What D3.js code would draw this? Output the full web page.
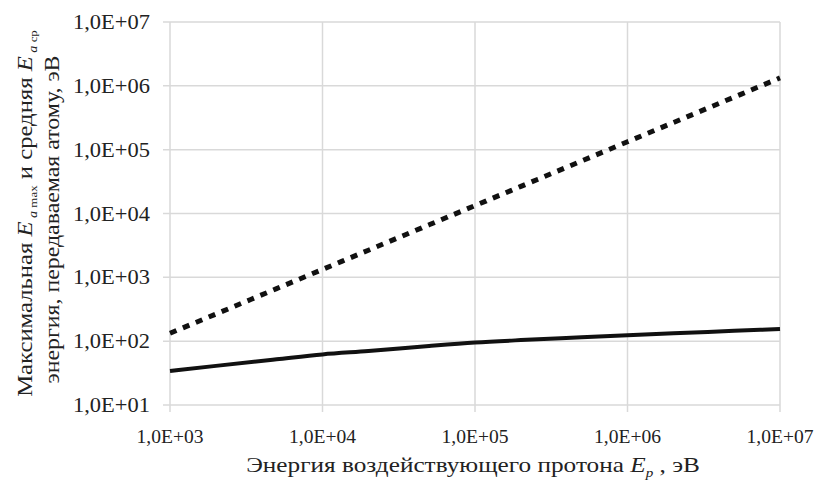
<!DOCTYPE html>
<html>
<head>
<meta charset="utf-8">
<script src="https://cdn.jsdelivr.net/npm/d3@7"></script>
<style>
  body { margin: 0; background: #fff; }
</style>
</head>
<body>
<svg id="chart" width="821" height="492"></svg>
<script>
// proton energy, eV
const energyEv = [1e3, 2e3, 5e3, 1e4, 2e4, 5e4, 1e5, 2e5, 5e5, 1e6, 2e6, 5e6, 1e7];
// maximal energy passed to the atom, eV (dotted)
const eMax = [133, 266, 665, 1330, 2660, 6650, 13300, 26600, 66500, 133000, 266000, 665000, 1330000];
// average energy passed to the atom, eV (solid)
const eAvg = [34, 41, 52, 62, 70, 84, 95, 104, 115, 124, 133, 145, 155];

const xTicks = [1e3, 1e4, 1e5, 1e6, 1e7];
const yTicks = [1e1, 1e2, 1e3, 1e4, 1e5, 1e6, 1e7];

const W = 821, H = 492;
const margin = {top: 22, right: 41, bottom: 87, left: 170};
const gridColor = "#d9d9d9";
const serif = "Liberation Serif";

const svg = d3.select("#chart");

const x = d3.scaleLog().domain([1e3, 1e7]).range([margin.left, W - margin.right]);
const y = d3.scaleLog().domain([1e1, 1e7]).range([H - margin.bottom, margin.top]);

function fmt(v) {
    // 1,0E+03 style
    let p = Math.round(Math.log10(v));
    return "1,0E+" + (p < 10 ? "0" + p : p);
}

// stretch a text horizontally so it is about `target` px long (scanned figure text is wide)
function stretch(sel, base, target) {
    sel.each(function () {
        let w = this.getComputedTextLength();
        let s = target / w;
        d3.select(this).attr("transform", base(d3.select(this).datum()) + " scale(" + s.toFixed(3) + ",1)");
    });
}

// grid
svg.append("g").selectAll("line")
    .data(yTicks)
    .enter().append("line")
    .attr("x1", margin.left - 7)
    .attr("x2", W - margin.right)
    .attr("y1", d => y(d))
    .attr("y2", d => y(d))
    .style("stroke", gridColor)
    .style("stroke-width", 1.5);

svg.append("g").selectAll("line")
    .data(xTicks)
    .enter().append("line")
    .attr("x1", d => x(d))
    .attr("x2", d => x(d))
    .attr("y1", margin.top)
    .attr("y2", H - margin.bottom + 7)
    .style("stroke", gridColor)
    .style("stroke-width", 1.5);

// tick labels
let yLab = svg.append("g").selectAll("text")
    .data(yTicks)
    .enter().append("text")
    .attr("text-anchor", "end")
    .style("font-family", serif)
    .style("font-size", "21px")
    .style("fill", "#222")
    .text(fmt);
stretch(yLab, d => "translate(" + (margin.left - 20) + "," + (y(d) + 7) + ")", 77);

let xLab = svg.append("g").selectAll("text")
    .data(xTicks)
    .enter().append("text")
    .attr("text-anchor", "middle")
    .style("font-family", serif)
    .style("font-size", "19px")
    .style("fill", "#222")
    .text(fmt);
stretch(xLab, d => "translate(" + x(d) + "," + (H - margin.bottom + 38) + ")", 67);

// lines
const line = d3.line()
    .x(d => x(d[0]))
    .y(d => y(d[1]))
    .curve(d3.curveMonotoneX);

svg.append("path")
    .datum(energyEv.map((e, i) => [e, eMax[i]]))
    .attr("d", line)
    .style("fill", "none")
    .style("stroke", "#111")
    .style("stroke-width", 5)
    .style("stroke-dasharray", "7,7");

svg.append("path")
    .datum(energyEv.map((e, i) => [e, eAvg[i]]))
    .attr("d", line)
    .style("fill", "none")
    .style("stroke", "#111")
    .style("stroke-width", 4);

// x axis title
let xt = svg.append("text")
    .datum(0)
    .attr("text-anchor", "middle")
    .style("font-family", serif)
    .style("font-size", "20px")
    .style("fill", "#222");
xt.append("tspan").text("Энергия воздействующего протона ");
xt.append("tspan").style("font-style", "italic").text("E");
xt.append("tspan").attr("dy", 5).style("font-size", "12px").style("font-style", "italic").text("p");
xt.append("tspan").attr("dy", -5).text(" , эВ");
stretch(xt, () => "translate(" + ((margin.left + W - margin.right) / 2 - 2) + ",472)", 454);

// y axis title (two lines)
const yc = (margin.top + H - margin.bottom) / 2;
let yt1 = svg.append("text")
    .datum(0)
    .attr("text-anchor", "middle")
    .style("font-family", serif)
    .style("font-size", "21px")
    .style("fill", "#222");
yt1.append("tspan").text("Максимальная ");
yt1.append("tspan").style("font-style", "italic").text("E");
yt1.append("tspan").attr("dy", 5).style("font-size", "12px").style("font-style", "italic").text(" a");
yt1.append("tspan").style("font-size", "11px").text(" max");
yt1.append("tspan").attr("dy", -5).text(" и средняя ");
yt1.append("tspan").style("font-style", "italic").text("E");
yt1.append("tspan").attr("dy", 5).style("font-size", "12px").style("font-style", "italic").text(" a");
yt1.append("tspan").style("font-size", "11px").text(" ср");
stretch(yt1, () => "translate(32," + yc + ") rotate(-90)", 367);

let yt2 = svg.append("text")
    .datum(0)
    .attr("text-anchor", "middle")
    .style("font-family", serif)
    .style("font-size", "21px")
    .style("fill", "#222")
    .text("энергия, передаваемая атому, эВ");
stretch(yt2, () => "translate(59," + (yc + 6) + ") rotate(-90)", 328);
</script>
</body>
</html>
